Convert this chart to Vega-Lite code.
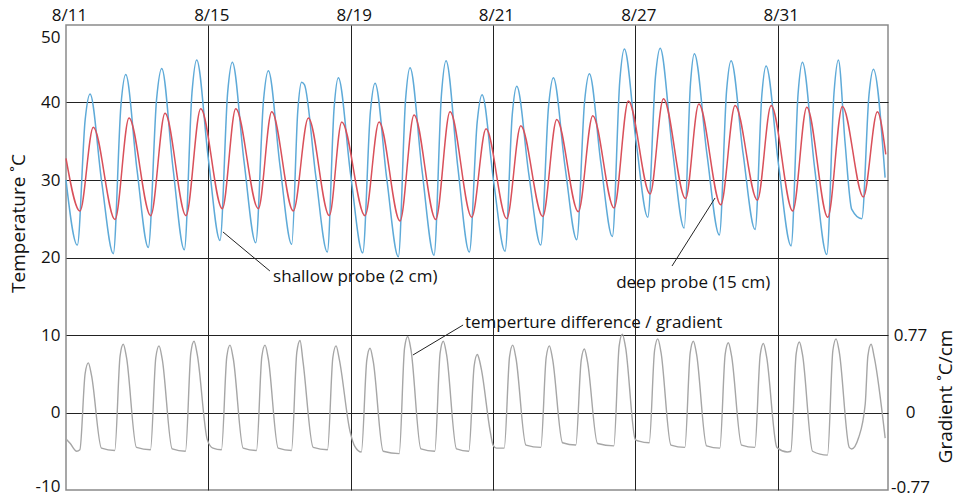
{
  "$schema": "https://vega.github.io/schema/vega-lite/v6.json",
  "width": 822,
  "height": 465,
  "autosize": "none",
  "padding": {"left": 66, "top": 25, "right": 68, "bottom": 8},
  "background": "white",
  "config": {
    "view": {"stroke": "#8a8a8a", "strokeWidth": 1.5},
    "font": "Open Sans",
    "axis": {
      "labelFont": "Open Sans", "titleFont": "Open Sans", "labelFontSize": 17,
      "labelColor": "#111111", "titleColor": "#111111", "titleFontWeight": "normal",
      "domain": false, "ticks": false, "tickSize": 0,
      "gridColor": "#222222", "gridWidth": 1, "gridOpacity": 1
    }
  },
  "datasets": {
    "shallow": [{"d":0,"v":30.0},{"d":0.318,"v":21.6},{"d":0.539,"v":37.8},{"d":0.675,"v":41.1},{"d":1.002,"v":29.8},{"d":1.329,"v":20.5},{"d":1.545,"v":39.7},{"d":1.678,"v":43.6},{"d":1.996,"v":31.3},{"d":2.313,"v":21.3},{"d":2.547,"v":40.5},{"d":2.69,"v":44.4},{"d":3.008,"v":31.5},{"d":3.325,"v":21.0},{"d":3.541,"v":41.3},{"d":3.673,"v":45.5},{"d":4.001,"v":32.7},{"d":4.328,"v":22.2},{"d":4.543,"v":41.3},{"d":4.674,"v":45.2},{"d":5.003,"v":32.4},{"d":5.332,"v":21.9},{"d":5.551,"v":40.3},{"d":5.686,"v":44.1},{"d":6.015,"v":31.8},{"d":6.343,"v":21.7},{"d":6.515,"v":39.0},{"d":6.62,"v":42.6},{"d":6.7,"v":42.3},{"d":7.022,"v":30.4},{"d":7.344,"v":20.7},{"d":7.536,"v":39.4},{"d":7.653,"v":43.2},{"d":7.996,"v":30.8},{"d":8.339,"v":20.6},{"d":8.554,"v":38.8},{"d":8.685,"v":42.5},{"d":9.013,"v":30.2},{"d":9.34,"v":20.1},{"d":9.543,"v":40.4},{"d":9.668,"v":44.5},{"d":10.006,"v":31.2},{"d":10.343,"v":20.3},{"d":10.552,"v":41.1},{"d":10.68,"v":45.4},{"d":11.008,"v":31.8},{"d":11.335,"v":20.7},{"d":11.556,"v":37.5},{"d":11.692,"v":41.0},{"d":12.015,"v":29.9},{"d":12.338,"v":20.8},{"d":12.542,"v":38.5},{"d":12.667,"v":42.1},{"d":13.005,"v":30.8},{"d":13.342,"v":21.6},{"d":13.561,"v":39.5},{"d":13.696,"v":43.2},{"d":14.025,"v":31.7},{"d":14.353,"v":22.3},{"d":14.573,"v":40.1},{"d":14.708,"v":43.7},{"d":15.031,"v":32.2},{"d":15.354,"v":22.7},{"d":15.563,"v":42.8},{"d":15.691,"v":46.9},{"d":16.02,"v":35.0},{"d":16.349,"v":25.2},{"d":16.565,"v":43.3},{"d":16.698,"v":47.0},{"d":17.035,"v":34.2},{"d":17.372,"v":23.8},{"d":17.55,"v":42.5},{"d":17.658,"v":46.3},{"d":18.01,"v":33.4},{"d":18.361,"v":22.9},{"d":18.565,"v":41.6},{"d":18.69,"v":45.4},{"d":19.028,"v":33.4},{"d":19.365,"v":23.6},{"d":19.557,"v":41.1},{"d":19.674,"v":44.7},{"d":20.026,"v":31.9},{"d":20.377,"v":21.5},{"d":20.574,"v":41.2},{"d":20.694,"v":45.2},{"d":21.037,"v":31.6},{"d":21.38,"v":20.4},{"d":21.582,"v":41.2},{"d":21.706,"v":45.5},{"d":21.89,"v":35.0},{"d":22.082,"v":26.2},{"d":22.364,"v":25.0},{"d":22.566,"v":41.0},{"d":22.69,"v":44.3},{"d":23.018,"v":30.3}],
    "deep": [{"d":0,"v":32.8},{"d":0.393,"v":26.0},{"d":0.767,"v":36.8},{"d":1.377,"v":24.9},{"d":1.771,"v":38.0},{"d":2.381,"v":25.4},{"d":2.783,"v":38.6},{"d":3.373,"v":25.4},{"d":3.786,"v":39.2},{"d":4.393,"v":26.3},{"d":4.77,"v":39.2},{"d":5.405,"v":26.3},{"d":5.781,"v":38.8},{"d":6.388,"v":26.0},{"d":6.81,"v":38.0},{"d":7.4,"v":25.4},{"d":7.749,"v":37.5},{"d":8.404,"v":25.4},{"d":8.797,"v":37.5},{"d":9.387,"v":24.7},{"d":9.781,"v":38.4},{"d":10.391,"v":24.9},{"d":10.792,"v":38.8},{"d":11.403,"v":25.2},{"d":11.804,"v":36.6},{"d":12.386,"v":25.0},{"d":12.78,"v":37.0},{"d":13.398,"v":25.3},{"d":13.791,"v":37.8},{"d":14.398,"v":25.9},{"d":14.803,"v":38.3},{"d":15.402,"v":26.4},{"d":15.804,"v":40.2},{"d":16.414,"v":28.2},{"d":16.788,"v":40.5},{"d":17.411,"v":27.6},{"d":17.783,"v":39.8},{"d":18.401,"v":26.8},{"d":18.803,"v":39.6},{"d":19.43,"v":27.4},{"d":19.815,"v":39.6},{"d":20.424,"v":26.0},{"d":20.818,"v":39.4},{"d":21.408,"v":25.2},{"d":21.818,"v":39.5},{"d":22.408,"v":27.8},{"d":22.802,"v":38.8},{"d":23.038,"v":33.3}],
    "grad": [{"d":0,"v":-3.4},{"d":0.12,"v":-4.0},{"d":0.3,"v":-5.0},{"d":0.39,"v":-4.8},{"d":0.537,"v":5.0},{"d":0.627,"v":6.4},{"d":0.717,"v":4.8},{"d":0.997,"v":-4.6},{"d":1.37,"v":-4.9},{"d":1.52,"v":7.3},{"d":1.61,"v":8.8},{"d":1.7,"v":7.1},{"d":1.98,"v":-4.5},{"d":2.374,"v":-4.8},{"d":2.524,"v":7.1},{"d":2.614,"v":8.6},{"d":2.704,"v":6.9},{"d":2.984,"v":-4.7},{"d":3.358,"v":-5.0},{"d":3.508,"v":7.7},{"d":3.598,"v":9.2},{"d":3.688,"v":7.5},{"d":3.97,"v":-3.5},{"d":4.13,"v":-4.6},{"d":4.369,"v":-4.8},{"d":4.519,"v":7.2},{"d":4.609,"v":8.7},{"d":4.699,"v":7.0},{"d":4.979,"v":-4.6},{"d":5.353,"v":-4.9},{"d":5.503,"v":7.2},{"d":5.593,"v":8.7},{"d":5.683,"v":7.0},{"d":5.963,"v":-4.6},{"d":6.337,"v":-4.9},{"d":6.487,"v":7.8},{"d":6.577,"v":9.3},{"d":6.66,"v":6.6},{"d":6.947,"v":-4.5},{"d":7.349,"v":-4.8},{"d":7.499,"v":7.1},{"d":7.589,"v":8.6},{"d":7.679,"v":6.9},{"d":7.98,"v":-2.4},{"d":8.12,"v":-4.4},{"d":8.3,"v":-5.1},{"d":8.454,"v":6.8},{"d":8.544,"v":8.3},{"d":8.634,"v":6.6},{"d":8.914,"v":-5.0},{"d":9.364,"v":-5.3},{"d":9.514,"v":8.3},{"d":9.604,"v":9.8},{"d":9.694,"v":8.1},{"d":9.974,"v":-4.7},{"d":10.364,"v":-5.0},{"d":10.514,"v":7.7},{"d":10.604,"v":9.2},{"d":10.694,"v":7.5},{"d":10.974,"v":-4.7},{"d":11.32,"v":-5.0},{"d":11.47,"v":6.0},{"d":11.56,"v":7.5},{"d":11.61,"v":6.9},{"d":11.68,"v":5.4},{"d":11.92,"v":-2.4},{"d":12.0,"v":-4.2},{"d":12.1,"v":-4.6},{"d":12.315,"v":-4.6},{"d":12.465,"v":7.2},{"d":12.555,"v":8.7},{"d":12.645,"v":7.0},{"d":12.925,"v":-4.2},{"d":13.344,"v":-4.5},{"d":13.494,"v":7.1},{"d":13.584,"v":8.6},{"d":13.674,"v":6.9},{"d":13.954,"v":-3.9},{"d":14.327,"v":-4.2},{"d":14.477,"v":6.7},{"d":14.567,"v":8.2},{"d":14.657,"v":6.5},{"d":14.937,"v":-4.0},{"d":15.395,"v":-4.3},{"d":15.545,"v":8.6},{"d":15.635,"v":10.1},{"d":15.725,"v":8.4},{"d":16.0,"v":-3.5},{"d":16.1,"v":-3.7},{"d":16.39,"v":-3.9},{"d":16.54,"v":8.0},{"d":16.63,"v":9.5},{"d":16.72,"v":7.8},{"d":17.0,"v":-4.2},{"d":17.391,"v":-4.5},{"d":17.541,"v":7.7},{"d":17.631,"v":9.2},{"d":17.721,"v":7.5},{"d":18.001,"v":-4.3},{"d":18.374,"v":-4.6},{"d":18.524,"v":7.5},{"d":18.614,"v":9.0},{"d":18.704,"v":7.3},{"d":18.984,"v":-4.2},{"d":19.358,"v":-4.5},{"d":19.508,"v":7.4},{"d":19.598,"v":8.9},{"d":19.688,"v":7.2},{"d":19.968,"v":-4.4},{"d":20.0,"v":-4.6},{"d":20.27,"v":-5.1},{"d":20.37,"v":-5.0},{"d":20.52,"v":7.6},{"d":20.61,"v":9.1},{"d":20.7,"v":7.4},{"d":20.98,"v":-5.0},{"d":21.401,"v":-5.5},{"d":21.551,"v":8.0},{"d":21.641,"v":9.5},{"d":21.731,"v":7.8},{"d":22.011,"v":-4.5},{"d":22.08,"v":-4.7},{"d":22.27,"v":-3.3},{"d":22.46,"v":1.1},{"d":22.535,"v":7.3},{"d":22.625,"v":8.8},{"d":22.715,"v":7.1},{"d":23.02,"v":-3.3}],
    "leaders": [{"d":4.41,"v":23.3,"d2":5.73,"v2":18.26},{"d":18.24,"v":27.68,"d2":17.03,"v2":18.9},{"d":11.16,"v":11.29,"d2":9.75,"v2":7.42}],
    "notes": [{"d":5.82,"v":17.5,"t":"shallow probe (2 cm)"},{"d":15.46,"v":16.77,"t":"deep probe (15 cm)"},{"d":11.21,"v":11.55,"t":"temperture difference / gradient"}]
  },
  "encoding": {
    "x": {
      "field": "d", "type": "quantitative",
      "scale": {"domain": [0, 23.1], "nice": false, "zero": false},
      "axis": {
        "orient": "top", "values": [0, 4, 8, 12, 16, 20],
        "labelExpr": "['8/11','8/15','8/19','8/21','8/27','8/31'][round(datum.value/4)]",
        "grid": true,
        "gridOpacity": {"condition": {"test": "datum.value == 0", "value": 0}, "value": 1},
        "labelFlush": false, "labelPadding": 1, "labelOffset": 3, "title": null
      }
    }
  },
  "layer": [
    {
      "data": {"name": "grad"},
      "mark": {"type": "line", "color": "#a6a6a6", "strokeWidth": 1.4, "interpolate": "monotone"},
      "encoding": {
        "y": {
          "field": "v", "type": "quantitative",
          "scale": {"domain": [-10, 50], "nice": false, "zero": false},
          "axis": {
            "orient": "right", "values": [-10, 0, 10],
            "labelExpr": "datum.value == 10 ? '0.77' : datum.value == 0 ? '0' : '-0.77'",
            "grid": false, "labelAlign": "center", "labelBaseline": "middle", "labelPadding": 22,
            "labelOffset": {"condition": {"test": "datum.value == -10", "value": -3}, "value": 0},
            "title": "Gradient  ˚C/cm", "titleFontSize": 19, "titleAngle": 270,
            "titleX": 57, "titleY": 371, "titleAlign": "center", "titleBaseline": "middle"
          }
        }
      }
    },
    {
      "data": {"name": "shallow"},
      "mark": {"type": "line", "color": "#5eaad8", "strokeWidth": 1.5, "interpolate": "monotone"},
      "encoding": {
        "y": {
          "field": "v", "type": "quantitative",
          "scale": {"domain": [-10, 50], "nice": false, "zero": false},
          "axis": {
            "orient": "left", "values": [-10, 0, 10, 20, 30, 40, 50],
            "labelExpr": "datum.value < 0 ? '-' + abs(datum.value) : '' + datum.value",
            "grid": true,
            "gridOpacity": {"condition": {"test": "datum.value > 45 || datum.value < -5", "value": 0}, "value": 1},
            "labelPadding": 6, "labelBaseline": "middle",
            "labelOffset": {"condition": [{"test": "datum.value == 50", "value": 12}, {"test": "datum.value == -10", "value": -4}], "value": 0},
            "title": "Temperature  ˚C", "titleFontSize": 19, "titleAngle": 270,
            "titleX": -48, "titleY": 198, "titleAlign": "center", "titleBaseline": "middle"
          }
        }
      }
    },
    {
      "data": {"name": "deep"},
      "mark": {"type": "line", "color": "#d9505a", "strokeWidth": 1.5, "interpolate": "monotone"},
      "encoding": {"y": {"field": "v", "type": "quantitative", "axis": null}}
    },
    {
      "data": {"name": "leaders"},
      "mark": {"type": "rule", "color": "#222222", "strokeWidth": 1},
      "encoding": {
        "y": {"field": "v", "type": "quantitative", "axis": null},
        "x2": {"field": "d2"},
        "y2": {"field": "v2"}
      }
    },
    {
      "data": {"name": "notes"},
      "mark": {"type": "text", "align": "left", "baseline": "middle", "font": "Open Sans", "fontSize": 17, "color": "#111111"},
      "encoding": {
        "y": {"field": "v", "type": "quantitative", "axis": null},
        "text": {"field": "t"}
      }
    }
  ],
  "resolve": {"axis": {"y": "independent"}}
}
